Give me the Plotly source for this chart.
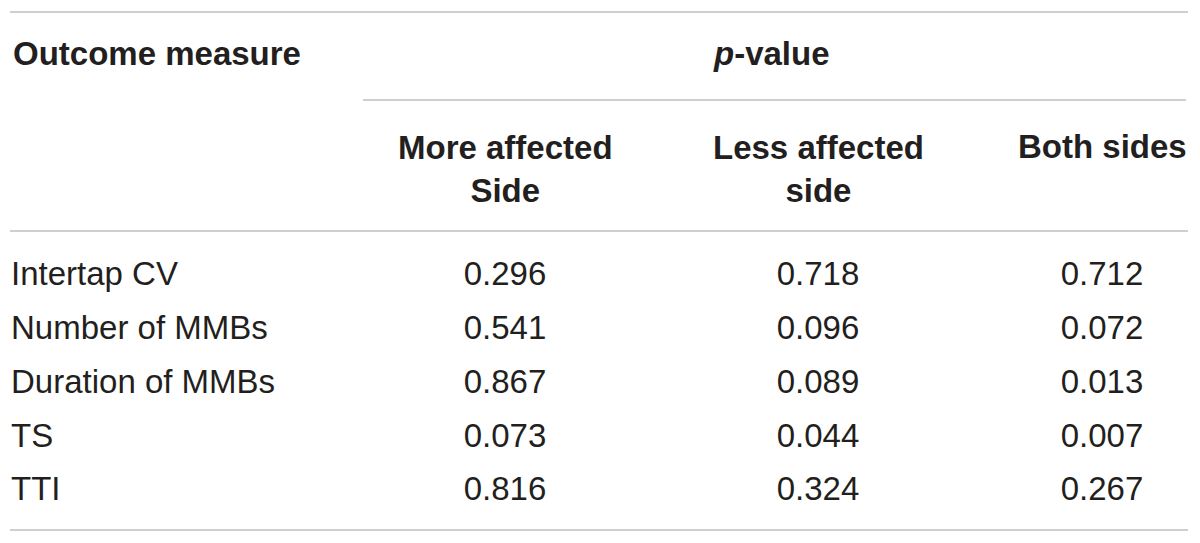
import plotly.graph_objects as go

# Table content
measures = ["Intertap CV", "Number of MMBs", "Duration of MMBs", "TS", "TTI"]
col_headers = ["More affected<br>Side", "Less affected<br>side", "Both sides"]
more_affected = ["0.296", "0.541", "0.867", "0.073", "0.816"]
less_affected = ["0.718", "0.096", "0.089", "0.044", "0.324"]
both_sides = ["0.712", "0.072", "0.013", "0.007", "0.267"]

W, H = 1200, 543
TEXT = "#231f20"
RULE = "#bfbfbf"
FONT = "Liberation Sans, Arial, sans-serif"
BODY_SIZE = 33
HEAD_SIZE = 33

# layout in pixel units (y grows downward)
col_x = [505, 818, 1102]
first_row_y = 277
row_step = 53.75
row_y = [first_row_y + i * row_step for i in range(len(measures))]

fig = go.Figure()

# first column (left aligned)
fig.add_trace(
    go.Scatter(
        x=[11] * len(measures),
        y=row_y,
        text=measures,
        mode="text",
        textposition="middle right",
        textfont=dict(family=FONT, size=BODY_SIZE, color=TEXT),
        hoverinfo="skip",
        showlegend=False,
    )
)

# value columns
for cx, vals in zip(col_x, [more_affected, less_affected, both_sides]):
    fig.add_trace(
        go.Scatter(
            x=[cx] * len(vals),
            y=row_y,
            text=vals,
            mode="text",
            textposition="middle center",
            textfont=dict(family=FONT, size=BODY_SIZE, color=TEXT),
            hoverinfo="skip",
            showlegend=False,
        )
    )

# header texts
annotations = [
    dict(x=11, y=53, text="<b>Outcome measure</b>", xanchor="left"),
    dict(x=771, y=53, text="<b><i>p</i>-value</b>", xanchor="center"),
]
header_y = [169, 169, 146]
for cx, hy, label in zip(col_x, header_y, col_headers):
    annotations.append(dict(x=cx, y=hy, text=f"<b>{label}</b>", xanchor="center"))

for a in annotations:
    a.update(
        xref="x",
        yref="y",
        yanchor="middle",
        showarrow=False,
        font=dict(family=FONT, size=HEAD_SIZE, color=TEXT),
    )

# horizontal rules
rules = [(10, 1188, 12), (363, 1186, 100), (10, 1188, 231), (10, 1188, 530)]
shapes = [
    dict(
        type="line",
        xref="x",
        yref="y",
        x0=x0,
        x1=x1,
        y0=y,
        y1=y,
        line=dict(color=RULE, width=1.5),
    )
    for x0, x1, y in rules
]

fig.update_layout(
    width=W,
    height=H,
    margin=dict(l=0, r=0, t=0, b=0),
    paper_bgcolor="white",
    plot_bgcolor="white",
    xaxis=dict(range=[0, W], visible=False, fixedrange=True),
    yaxis=dict(range=[H, 0], visible=False, fixedrange=True),
    annotations=annotations,
    shapes=shapes,
)

# drop the browser's default page margin so the figure sits at 0,0
fig.write_html(
    "out.html",
    config={"displayModeBar": False},
    post_script="document.body.style.margin='0';",
)
